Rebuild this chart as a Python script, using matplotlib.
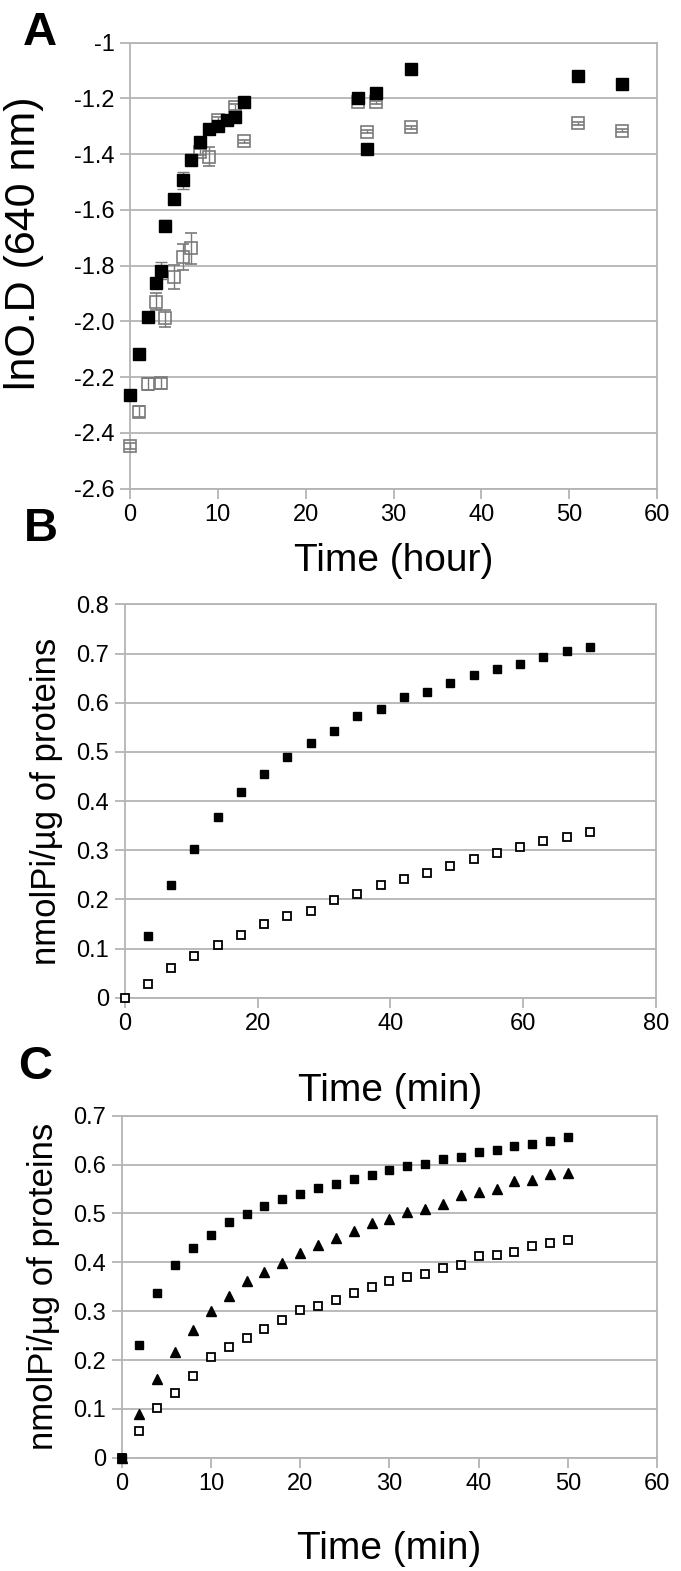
import matplotlib
matplotlib.use("Agg")
import matplotlib.pyplot as plt
from matplotlib import font_manager

# ---------------- data ----------------
# Panel A
a_filled_t = [0, 1, 2, 3, 3.5, 4, 5, 6, 7, 8, 9, 10, 11, 12, 13, 26, 27, 28, 32, 51, 56]
a_filled_y = [-2.263, -2.117, -1.983, -1.863, -1.818, -1.657, -1.562, -1.493, -1.422, -1.355,
              -1.311, -1.299, -1.277, -1.268, -1.214, -1.200, -1.381, -1.182, -1.096, -1.119, -1.149]
a_filled_err = [0.005, 0.005, 0.005, 0.01, 0.03, 0.02, 0.01, 0.03, 0.01, 0.01,
                0.01, 0.01, 0.01, 0.01, 0.005, 0.005, 0.005, 0.005, 0.005, 0.005, 0.005]
a_open_t = [0, 1, 2, 3, 3.5, 4, 5, 6, 7, 8, 9, 10, 12, 13, 26, 27, 28, 32, 51, 56]
a_open_y = [-2.446, -2.324, -2.224, -1.929, -2.222, -1.989, -1.842, -1.768, -1.738, -1.391,
            -1.409, -1.277, -1.230, -1.353, -1.214, -1.319, -1.214, -1.304, -1.289, -1.316]
a_open_err = [0.01, 0.02, 0.02, 0.03, 0.02, 0.03, 0.043, 0.047, 0.054, 0.01,
              0.035, 0.01, 0.01, 0.005, 0.005, 0.005, 0.005, 0.005, 0.005, 0.005]
a_yticks = [-1, -1.2, -1.4, -1.6, -1.8, -2.0, -2.2, -2.4, -2.6]
a_yticklabels = ['-1', '-1.2', '-1.4', '-1.6', '-1.8', '-2.0', '-2.2', '-2.4', '-2.6']
a_xticks = [0, 10, 20, 30, 40, 50, 60]

# Panel B
b_filled_t = [3.5, 7, 10.5, 14, 17.5, 21, 24.5, 28, 31.5, 35, 38.5, 42, 45.5, 49, 52.5, 56, 59.5, 63, 66.5, 70]
b_filled_y = [0.125, 0.229, 0.302, 0.368, 0.419, 0.454, 0.489, 0.519, 0.543, 0.573,
              0.588, 0.611, 0.622, 0.641, 0.656, 0.668, 0.679, 0.693, 0.706, 0.714]
b_open_t = [0, 3.5, 7, 10.5, 14, 17.5, 21, 24.5, 28, 31.5, 35, 38.5, 42, 45.5, 49, 52.5, 56, 59.5, 63, 66.5, 70]
b_open_y = [0.0, 0.028, 0.060, 0.084, 0.107, 0.128, 0.150, 0.167, 0.176, 0.199, 0.211,
            0.229, 0.241, 0.253, 0.268, 0.283, 0.294, 0.307, 0.319, 0.327, 0.338]
b_yticks = [0, 0.1, 0.2, 0.3, 0.4, 0.5, 0.6, 0.7, 0.8]
b_yticklabels = ['0', '0.1', '0.2', '0.3', '0.4', '0.5', '0.6', '0.7', '0.8']
b_xticks = [0, 20, 40, 60, 80]

# Panel C
c_t = [0, 2, 4, 6, 8, 10, 12, 14, 16, 18, 20, 22, 24, 26, 28, 30, 32, 34, 36, 38, 40, 42, 44, 46, 48, 50]
c_filled_y = [0, 0.231, 0.338, 0.394, 0.430, 0.456, 0.483, 0.498, 0.516, 0.529, 0.539, 0.552, 0.560,
              0.570, 0.579, 0.588, 0.598, 0.602, 0.612, 0.615, 0.626, 0.630, 0.638, 0.642, 0.648, 0.656]
c_tri_y = [0, 0.089, 0.161, 0.217, 0.261, 0.301, 0.331, 0.362, 0.381, 0.399, 0.420, 0.435, 0.449,
           0.465, 0.480, 0.489, 0.502, 0.510, 0.520, 0.537, 0.544, 0.551, 0.566, 0.568, 0.580, 0.582]
c_open_y = [0, 0.055, 0.102, 0.132, 0.168, 0.207, 0.227, 0.246, 0.263, 0.281, 0.302, 0.310, 0.323,
            0.338, 0.349, 0.362, 0.370, 0.376, 0.388, 0.394, 0.413, 0.415, 0.422, 0.433, 0.439, 0.445]
c_yticks = [0, 0.1, 0.2, 0.3, 0.4, 0.5, 0.6, 0.7]
c_yticklabels = ['0', '0.1', '0.2', '0.3', '0.4', '0.5', '0.6', '0.7']
c_xticks = [0, 10, 20, 30, 40, 50, 60]

# ---------------- style ----------------
names = {f.name for f in font_manager.fontManager.ttflist}
narrow = ['Liberation Sans Narrow', 'Liberation Sans', 'DejaVu Sans'] if 'Liberation Sans Narrow' in names \
    else ['Liberation Sans', 'DejaVu Sans']
plt.rcParams['font.family'] = ['Liberation Sans', 'DejaVu Sans']

GRID = '#b4b4b4'
TICKFS = 17
XLABELFS = 28
YLABELFS = 25

fig = plt.figure(figsize=(6.81, 15.71), dpi=100)


def style(ax, xlim, ylim, xticks, yticks, yticklabels):
    ax.set_xlim(*xlim)
    ax.set_ylim(*ylim)
    ax.set_xticks(xticks)
    ax.set_yticks(yticks)
    ax.set_yticklabels(yticklabels)
    ax.set_xticklabels([str(v) for v in xticks])
    for s in ax.spines.values():
        s.set_color(GRID)
        s.set_linewidth(1.3)
    ax.yaxis.grid(True, color=GRID, linewidth=1.3)
    ax.set_axisbelow(True)
    ax.tick_params(axis='both', colors=GRID, labelcolor='black', width=1.3, length=7,
                   labelsize=TICKFS, pad=4)
    for lab in ax.get_xticklabels() + ax.get_yticklabels():
        lab.set_family(narrow)


# Panel A
axA = fig.add_axes([0.1909, 0.6889, 0.7739, 0.2839])
style(axA, (0, 60), (-2.6, -1), a_xticks, a_yticks, a_yticklabels)
axA.errorbar(a_open_t, a_open_y, yerr=a_open_err, fmt='s', ms=9, mfc='none', mec='#7a7a7a',
             mew=1.2, ecolor='#7a7a7a', elinewidth=1.0, capsize=4, capthick=1.0, zorder=3, clip_on=False)
axA.errorbar(a_filled_t, a_filled_y, yerr=a_filled_err, fmt='s', ms=9, mfc='black', mec='black',
             ecolor='#7a7a7a', elinewidth=1.0, capsize=4, capthick=1.0, zorder=4, clip_on=False)
axA.set_xlabel('Time (hour)', fontsize=XLABELFS, labelpad=12)
axA.set_ylabel('lnO.D (640 nm)', fontsize=31)
axA.yaxis.set_label_coords(-0.163, 0.55)
fig.text(0.058, 0.979, 'A', fontsize=34, fontweight='bold', ha='center', va='center')

# Panel B
axB = fig.add_axes([0.1830, 0.3649, 0.7808, 0.2504])
style(axB, (0, 80), (0, 0.8), b_xticks, b_yticks, b_yticklabels)
axB.plot(b_open_t, b_open_y, 's', ms=6, mfc='white', mec='black', mew=1.3, zorder=3, clip_on=False)
axB.plot(b_filled_t, b_filled_y, 's', ms=6, mfc='black', mec='black', zorder=4, clip_on=False)
axB.set_xlabel('Time (min)', fontsize=XLABELFS, labelpad=27)
axB.set_ylabel('nmolPi/µg of proteins', fontsize=YLABELFS, labelpad=10)
fig.text(0.060, 0.663, 'B', fontsize=34, fontweight='bold', ha='center', va='center')

# Panel C
axC = fig.add_axes([0.1786, 0.0721, 0.7865, 0.2177])
style(axC, (0, 60), (0, 0.7), c_xticks, c_yticks, c_yticklabels)
axC.plot(c_t, c_open_y, 's', ms=6, mfc='white', mec='black', mew=1.3, zorder=3, clip_on=False)
axC.plot(c_t, c_tri_y, '^', ms=7, mfc='black', mec='black', zorder=4, clip_on=False)
axC.plot(c_t, c_filled_y, 's', ms=6, mfc='black', mec='black', zorder=5, clip_on=False)
axC.set_xlabel('Time (min)', fontsize=XLABELFS, labelpad=26)
axC.set_ylabel('nmolPi/µg of proteins', fontsize=YLABELFS, labelpad=10)
fig.text(0.052, 0.321, 'C', fontsize=34, fontweight='bold', ha='center', va='center')

fig.savefig('out.png', dpi=100)
